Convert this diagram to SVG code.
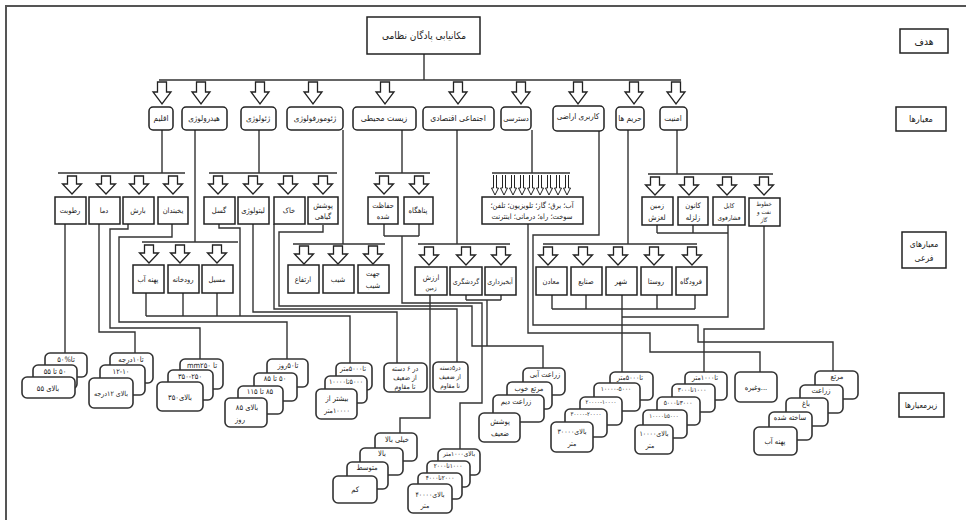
<svg xmlns="http://www.w3.org/2000/svg" width="966" height="520" viewBox="0 0 966 520">
<style>
text{font-family:"DejaVu Sans Condensed","DejaVu Sans",sans-serif;font-stretch:condensed;fill:#222;text-anchor:middle;direction:rtl;font-size:7.5px}
.c{fill:none;stroke:#333;stroke-width:1.4}
.box{fill:#fff;stroke:#222;stroke-width:1.5}
.cr{fill:#fff;stroke:#222;stroke-width:1.5}
.card{fill:#fff;stroke:#333;stroke-width:1.6}
.arr{fill:#fff;stroke:#222;stroke-width:1.3}
.thin{fill:#fff;stroke:#222;stroke-width:1}
.t10{font-size:10px}
.t9{font-size:9px}
.t85{font-size:8.5px}
.t8{font-size:8px}
.t7{font-size:7px}
.t65{font-size:6.5px}
.t6{font-size:6px}
</style>
<defs>
<path id="A1" d="M-4.5,0 h9 v10 h4.5 L0,22 L-9,10 h4.5 z"/>
<path id="A2" d="M-4.5,0 h9 v8 h5 L0,18 L-9.5,8 h5 z"/>
<path id="A3" d="M-1.5,0 V13 H-3.5 L0,20 L3.5,13 H1.5 V0"/>
</defs>
<g id="frame"><path d="M6,520 V6 H966" fill="none" stroke="#555" stroke-width="2"/></g>

<g id="connectors">
<path class="c" d="M424,54 V80 M159,80 H681"/>
<path class="c" d="M162,130 V173 M58,173 H185"/>
<path class="c" d="M195,130 V242 M142,242 H238"/>
<path class="c" d="M259,130 V173 M209,173 H337"/>
<path class="c" d="M343,130 V244 M293,244 H385"/>
<path class="c" d="M402,130 V173 M375,173 H430"/>
<path class="c" d="M457,130 V244 M418,244 H510"/>
<path class="c" d="M532,130 V173 M492,173 H570"/>
<path class="c" d="M599,131 V235 H533 V325 H698 V342 H833 V371"/>
<path class="c" d="M628,130 V244 M543,244 H697"/>
<path class="c" d="M677,130 V174 M648,174 H773"/>
<path class="c" d="M65,224 V353"/>
<path class="c" d="M99,224 V332 H135 V353"/>
<path class="c" d="M128,224 V229 H110 V328 H200 V359"/>
<path class="c" d="M172,224 V237 H119 V322 H287 V359"/>
<path class="c" d="M146,293 V316 M183,293 V316 M217,293 V316 M146,316 H350 V363"/>
<path class="c" d="M219,224 V228 H240 V316"/>
<path class="c" d="M253,224 V312 H397 V363"/>
<path class="c" d="M274,224 V309 H457 V362"/>
<path class="c" d="M323,225 V232 H279 V306 H472 V346 H543 V368"/>
<path class="c" d="M384,224 V236 M419,224 V236 M384,236 H419 M402,236 V303 H482 V403 H460 V449"/>
<path class="c" d="M430,295 V418 H400 V433"/>
<path class="c" d="M466,295 V300 M501,295 V300 M466,300 H501 M487,300 V346"/>
<path class="c" d="M528,224 V333 H650 V352 H760 V372"/>
<path class="c" d="M552,295 V309 M586,295 V309 M622,295 V309 M657,295 V309 M695,295 V309 M552,309 H695 M622,309 V372"/>
<path class="c" d="M657,225 V233 M693,225 V233 M728,225 V233 M657,233 H728 M728,233 V317 H622"/>
<path class="c" d="M764,226 V329 H704 V372"/>
<g class="arr">
<use href="#A1" x="162" y="82"/><use href="#A1" x="201" y="82"/><use href="#A1" x="260" y="82"/><use href="#A1" x="313" y="82"/><use href="#A1" x="385" y="82"/><use href="#A1" x="458" y="82"/><use href="#A1" x="521" y="82"/><use href="#A1" x="578" y="82"/><use href="#A1" x="634" y="82"/><use href="#A1" x="676" y="82"/>
<use href="#A2" x="72" y="176"/><use href="#A2" x="106" y="176"/><use href="#A2" x="139" y="176"/><use href="#A2" x="173" y="176"/>
<use href="#A2" x="218" y="176"/><use href="#A2" x="253" y="176"/><use href="#A2" x="288" y="176"/><use href="#A2" x="323" y="176"/>
<use href="#A2" x="384" y="176"/><use href="#A2" x="419" y="176"/>
<use href="#A2" x="655" y="177"/><use href="#A2" x="689" y="177"/><use href="#A2" x="727" y="177"/><use href="#A2" x="764" y="177"/>
<use href="#A2" x="149" y="245"/><use href="#A2" x="180" y="245"/><use href="#A2" x="217" y="245"/>
<use href="#A2" x="304" y="246"/><use href="#A2" x="338" y="246"/><use href="#A2" x="373" y="246"/>
<use href="#A2" x="429" y="247"/><use href="#A2" x="466" y="247"/><use href="#A2" x="501" y="247"/>
<use href="#A2" x="548" y="247"/><use href="#A2" x="583" y="247"/><use href="#A2" x="618" y="247"/><use href="#A2" x="654" y="247"/><use href="#A2" x="692" y="247"/>
</g>
<g class="thin">
<use href="#A3" x="495" y="175"/><use href="#A3" x="504" y="175"/><use href="#A3" x="513" y="175"/><use href="#A3" x="522" y="175"/><use href="#A3" x="531" y="175"/><use href="#A3" x="540" y="175"/><use href="#A3" x="549" y="175"/><use href="#A3" x="558" y="175"/><use href="#A3" x="567" y="175"/>
</g>
</g>

<g id="goal"><rect class="box" x="367" y="17" width="113" height="37"/><text class="t10" x="424" y="39">مکانیابی پادگان نظامی</text></g>

<g id="label-goal"><rect class="box" x="900" y="29" width="48" height="24"/><text class="t10" x="924" y="45">هدف</text></g>
<g id="label-criteria"><rect class="box" x="896" y="107" width="50" height="24"/><text class="t9" x="921" y="122">معیارها</text></g>
<g id="label-subcriteria"><rect class="box" x="902" y="232" width="44" height="36"/><text class="t85" x="924" y="247">معیارهای</text><text class="t85" x="924" y="261">فرعی</text></g>
<g id="label-classes"><rect class="box" x="899" y="393" width="45" height="24"/><text class="t85" x="921" y="408">زیرمعیارها</text></g>

<g id="criteria">
<g id="c-climate"><rect class="cr" rx="4" x="149" y="107" width="24" height="23"/><text class="t8" x="161" y="121">اقلیم</text></g>
<g id="c-hydro"><rect class="cr" rx="4" x="182" y="107" width="45" height="23"/><text class="t8" x="204" y="121">هیدرولوژی</text></g>
<g id="c-geology"><rect class="cr" rx="4" x="241" y="107" width="35" height="23"/><text class="t8" x="258" y="121">ژئولوژی</text></g>
<g id="c-geomorph"><rect class="cr" rx="4" x="287" y="107" width="56" height="23"/><text class="t8" x="315" y="121">ژئومورفولوژی</text></g>
<g id="c-env"><rect class="cr" rx="4" x="353" y="107" width="63" height="23"/><text class="t85" x="384" y="121">زیست محیطی</text></g>
<g id="c-socio"><rect class="cr" rx="4" x="423" y="107" width="71" height="23"/><text class="t85" x="458" y="121">اجتماعی اقتصادی</text></g>
<g id="c-access"><rect class="cr" rx="4" x="501" y="107" width="30" height="23"/><text x="516" y="121">دسترسی</text></g>
<g id="c-landuse"><rect class="cr" rx="4" x="553" y="106" width="51" height="25"/><text class="t8" x="578" y="119">کاربری اراضی</text></g>
<g id="c-harim"><rect class="cr" rx="4" x="616" y="107" width="28" height="23"/><text class="t8" x="630" y="121">حریم ها</text></g>
<g id="c-security"><rect class="cr" rx="4" x="660" y="107" width="27" height="23"/><text class="t8" x="673" y="121">امنیت</text></g>
</g>

<g id="subcriteria">
<g id="s-humidity"><rect class="box" x="55" y="197" width="31" height="27"/><text x="70" y="213">رطوبت</text></g>
<g id="s-temp"><rect class="box" x="89" y="197" width="31" height="27"/><text x="104" y="213">دما</text></g>
<g id="s-rain"><rect class="box" x="123" y="197" width="31" height="27"/><text x="138" y="213">بارش</text></g>
<g id="s-frost"><rect class="box" x="158" y="197" width="30" height="27"/><text x="173" y="213">یخبندان</text></g>
<g id="s-fault"><rect class="box" x="204" y="197" width="31" height="27"/><text x="219" y="213">گسل</text></g>
<g id="s-litho"><rect class="box" x="238" y="197" width="31" height="27"/><text x="253" y="213">لیتولوژی</text></g>
<g id="s-soil"><rect class="box" x="274" y="197" width="31" height="27"/><text x="289" y="213">خاک</text></g>
<g id="s-veg"><rect class="box" x="308" y="197" width="30" height="27"/><text x="323" y="208">پوشش</text><text x="323" y="219">گیاهی</text></g>
<g id="s-protected"><rect class="box" x="368" y="197" width="30" height="27"/><text x="383" y="208">حفاظت</text><text x="383" y="219">شده</text></g>
<g id="s-refuge"><rect class="box" x="404" y="197" width="29" height="27"/><text x="418" y="213">پناهگاه</text></g>
<g id="s-access"><rect class="box" x="482" y="197" width="101" height="27"/><text x="532" y="208">آب؛ برق؛ گاز؛ تلویزیون؛ تلفن؛</text><text x="532" y="219">سوخت؛ راه؛ درمانی؛ اینترنت</text></g>
<g id="s-landslide"><rect class="box" x="642" y="197" width="31" height="28"/><text x="657" y="208">زمین</text><text x="657" y="220">لغزش</text></g>
<g id="s-quake"><rect class="box" x="678" y="197" width="30" height="28"/><text x="693" y="208">کانون</text><text x="693" y="220">زلزله</text></g>
<g id="s-cable"><rect class="box" x="713" y="197" width="32" height="28"/><text class="t65" x="729" y="208">کابل</text><text class="t65" x="729" y="220">فشارقوی</text></g>
<g id="s-pipe"><rect class="box" x="749" y="198" width="31" height="28"/><text class="t6" x="764" y="206">خطوط</text><text class="t6" x="764" y="214">نفت و</text><text class="t6" x="764" y="222">گاز</text></g>
<g id="s-waterbody"><rect class="box" x="133" y="265" width="31" height="28"/><text x="148" y="282">پهنه آب</text></g>
<g id="s-river"><rect class="box" x="168" y="265" width="31" height="28"/><text x="183" y="282">رودخانه</text></g>
<g id="s-stream"><rect class="box" x="202" y="265" width="31" height="28"/><text x="217" y="282">مسیل</text></g>
<g id="s-elev"><rect class="box" x="288" y="265" width="31" height="28"/><text x="303" y="282">ارتفاع</text></g>
<g id="s-slope"><rect class="box" x="323" y="265" width="31" height="28"/><text x="338" y="282">شیب</text></g>
<g id="s-aspect"><rect class="box" x="358" y="265" width="31" height="28"/><text x="373" y="276">جهت</text><text x="373" y="288">شیب</text></g>
<g id="s-landvalue"><rect class="box" x="415" y="267" width="32" height="28"/><text x="431" y="280">ارزش</text><text class="t6" x="431" y="290">زمین</text></g>
<g id="s-tourism"><rect class="box" x="450" y="267" width="32" height="28"/><text class="t7" x="466" y="284">گردشگری</text></g>
<g id="s-watershed"><rect class="box" x="485" y="267" width="31" height="28"/><text class="t7" x="500" y="284">آبخیزداری</text></g>
<g id="s-mines"><rect class="box" x="536" y="267" width="31" height="28"/><text x="551" y="284">معادن</text></g>
<g id="s-industry"><rect class="box" x="571" y="267" width="31" height="28"/><text x="586" y="284">صنایع</text></g>
<g id="s-city"><rect class="box" x="606" y="267" width="31" height="28"/><text x="621" y="284">شهر</text></g>
<g id="s-village"><rect class="box" x="641" y="267" width="31" height="28"/><text x="656" y="284">روستا</text></g>
<g id="s-airport"><rect class="box" x="676" y="267" width="31" height="28"/><text x="691" y="284">فرودگاه</text></g>
</g>

<g id="classes">
<g id="k-humidity">
<rect class="card" rx="5" x="45" y="353" width="42" height="24"/><text x="66" y="362">تا%۵۰</text>
<rect class="card" rx="5" x="33" y="365" width="44" height="24"/><text x="55" y="374">۵۰ تا ۵۵</text>
<rect class="card" rx="5" x="22" y="377" width="53" height="21"/><text x="48" y="391">بالای ۵۵</text>
</g>
<g id="k-temp">
<rect class="card" rx="5" x="110" y="353" width="43" height="30"/><text x="131" y="362">تا۱۰درجه</text>
<rect class="card" rx="5" x="100" y="365" width="45" height="30"/><text x="121" y="374">۱۲-۱۰</text>
<rect class="card" rx="5" x="89" y="378" width="44" height="30"/><text class="t7" x="111" y="396">بالای ۱۲درجه</text>
</g>
<g id="k-rain">
<rect class="card" rx="5" x="180" y="359" width="43" height="30"/><text x="202" y="368">تا mm۲۵۰</text>
<rect class="card" rx="5" x="168" y="370" width="45" height="30"/><text x="190" y="379">۳۵۰-۲۵۰</text>
<rect class="card" rx="5" x="157" y="382" width="46" height="29"/><text x="180" y="400">بالای۳۵۰</text>
</g>
<g id="k-frost">
<rect class="card" rx="5" x="267" y="359" width="41" height="28"/><text x="288" y="368">تا۵۰روز</text>
<rect class="card" rx="5" x="254" y="373" width="43" height="28"/><text x="275" y="381">۵۰ تا ۸۵</text>
<rect class="card" rx="5" x="238" y="386" width="45" height="28"/><text x="260" y="394">۸۵ تا ۱۱۵</text>
<rect class="card" rx="5" x="225" y="398" width="42" height="29"/><text x="247" y="410">بالای ۸۵</text><text x="240" y="422">روز</text>
</g>
<g id="k-distance">
<rect class="card" rx="5" x="336" y="363" width="36" height="27"/><text class="t7" x="353" y="371">تا۵۰۰۰متر</text>
<rect class="card" rx="5" x="325" y="376" width="42" height="27"/><text class="t7" x="346" y="384">۵۰۰۰تا۱۰۰۰۰</text>
<rect class="card" rx="5" x="316" y="389" width="41" height="30"/><text x="337" y="401">بیشتر از</text><text class="t7" x="337" y="413">۱۰۰۰۰متر</text>
</g>
<g id="k-litho"><rect class="card" rx="5" x="384" y="363" width="43" height="29"/><text class="t7" x="405" y="371">در ۶ دسته</text><text class="t7" x="405" y="380">از ضعیف</text><text class="t7" x="405" y="389">تا مقاوم</text></g>
<g id="k-soil"><rect class="card" rx="5" x="433" y="362" width="35" height="30"/><text class="t65" x="450" y="370">در۵دسته</text><text class="t65" x="450" y="379">از ضعیف</text><text class="t65" x="450" y="388">تا مقاوم</text></g>
<g id="k-veg">
<rect class="card" rx="5" x="523" y="368" width="42" height="27"/><text x="545" y="377">زراعت آبی</text>
<rect class="card" rx="5" x="507" y="382" width="45" height="27"/><text x="529" y="391">مرتع خوب</text>
<rect class="card" rx="5" x="493" y="395" width="51" height="27"/><text x="516" y="404">زراعت دیم</text>
<rect class="card" rx="5" x="479" y="413" width="41" height="29"/><text x="500" y="424">پوشش</text><text x="500" y="436">ضعیف</text>
</g>
<g id="k-harim">
<rect class="card" rx="5" x="610" y="372" width="43" height="28"/><text class="t7" x="630" y="380">تا۵۰۰۰متر</text>
<rect class="card" rx="5" x="594" y="383" width="46" height="28"/><text class="t65" x="616" y="391">۱۰۰۰۰-۵۰۰۰</text>
<rect class="card" rx="5" x="580" y="397" width="42" height="28"/><text class="t6" x="601" y="404">۲۰۰۰۰-۱۰۰۰۰</text>
<rect class="card" rx="5" x="565" y="409" width="42" height="28"/><text class="t6" x="586" y="416">۳۰۰۰۰-۲۰۰۰۰</text>
<rect class="card" rx="5" x="551" y="422" width="42" height="30"/><text class="t7" x="572" y="434">بالای۳۰۰۰۰</text><text class="t7" x="572" y="446">متر</text>
</g>
<g id="k-pipe">
<rect class="card" rx="5" x="685" y="372" width="42" height="28"/><text class="t7" x="705" y="380">تا۱۰۰۰متر</text>
<rect class="card" rx="5" x="672" y="384" width="43" height="28"/><text class="t65" x="692" y="392">۱۰۰۰تا۳۰۰۰</text>
<rect class="card" rx="5" x="657" y="397" width="43" height="28"/><text class="t65" x="678" y="405">۳۰۰۰تا۵۰۰۰</text>
<rect class="card" rx="5" x="643" y="410" width="44" height="28"/><text class="t6" x="664" y="418">۵۰۰۰تا۱۰۰۰۰</text>
<rect class="card" rx="5" x="635" y="425" width="38" height="29"/><text class="t7" x="654" y="436">بالای۱۰۰۰۰</text><text class="t7" x="650" y="448">متر</text>
</g>
<g id="k-etc"><rect class="card" rx="5" x="735" y="372" width="42" height="30"/><text x="756" y="390">...وغیره</text></g>
<g id="k-landuse">
<rect class="card" rx="5" x="815" y="371" width="43" height="28"/><text x="837" y="379">مرتع</text>
<rect class="card" rx="5" x="800" y="385" width="43" height="28"/><text x="821" y="393">زراعت</text>
<rect class="card" rx="5" x="786" y="398" width="42" height="28"/><text x="806" y="406">باغ</text>
<rect class="card" rx="5" x="769" y="412" width="43" height="28"/><text x="790" y="420">ساخته شده</text>
<rect class="card" rx="5" x="754" y="427" width="43" height="28"/><text x="775" y="444">پهنه آب</text>
</g>
<g id="k-value">
<rect class="card" rx="5" x="375" y="433" width="42" height="28"/><text x="397" y="442">خیلی بالا</text>
<rect class="card" rx="5" x="360" y="448" width="43" height="27"/><text x="382" y="456">بالا</text>
<rect class="card" rx="5" x="347" y="462" width="41" height="27"/><text x="367" y="470">متوسط</text>
<rect class="card" rx="5" x="333" y="476" width="44" height="27"/><text x="355" y="492">کم</text>
</g>
<g id="k-env">
<rect class="card" rx="5" x="438" y="449" width="42" height="26"/><text class="t65" x="459" y="456">بالای۱۰۰۰متر</text>
<rect class="card" rx="5" x="427" y="461" width="43" height="26"/><text class="t65" x="448" y="468">۱۰۰۰تا۲۰۰۰</text>
<rect class="card" rx="5" x="418" y="473" width="44" height="26"/><text class="t65" x="440" y="480">۲۰۰۰تا۴۰۰۰</text>
<rect class="card" rx="5" x="408" y="484" width="44" height="29"/><text class="t7" x="430" y="497">بالای۴۰۰۰۰</text><text class="t7" x="425" y="508">متر</text>
</g>
</g>
</svg>
